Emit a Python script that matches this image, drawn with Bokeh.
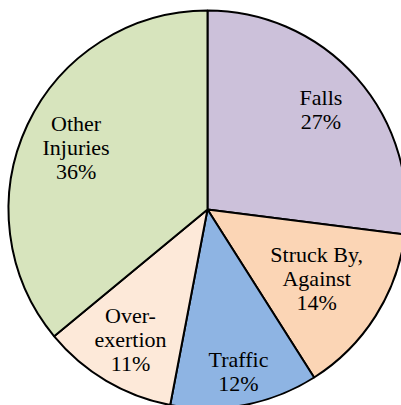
import math
from bokeh.plotting import figure
from bokeh.models import ColumnDataSource, Range1d
from bokeh.core.properties import value
from bokeh.embed import file_html
from bokeh.resources import INLINE

categories = ["Falls", "Struck By,\nAgainst", "Traffic", "Over-\nexertion", "Other\nInjuries"]
percents = [27, 14, 12, 11, 36]
colors = ["#CCC1DA", "#FBD5B5", "#8EB4E3", "#FDE9D9", "#D7E4BD"]
label_radius = [0.76, 0.65, 0.83, 0.76, 0.73]

R = 199
total = sum(percents)
starts, ends, lx, ly, texts = [], [], [], [], []
a = math.pi / 2
for cat, pct, lr in zip(categories, percents, label_radius):
    span = pct / total * 2 * math.pi
    s, e = a - span, a
    starts.append(s)
    ends.append(e)
    mid = (s + e) / 2
    lx.append(lr * R * math.cos(mid))
    ly.append(lr * R * math.sin(mid))
    texts.append(f"{cat}\n{pct}%")
    a = s

src = ColumnDataSource(dict(start=starts, end=ends, color=colors))
lab = ColumnDataSource(dict(x=lx, y=ly, text=texts))

W, H = 401, 405
cx, cy = 207, 209
p = figure(width=W, height=H, output_backend="svg", toolbar_location=None,
           x_range=Range1d(-cx, W - cx), y_range=Range1d(-(H - cy), cy),
           min_border=0)
p.axis.visible = False
p.grid.visible = False
p.outline_line_color = None

p.wedge(x=0, y=0, radius=R, start_angle="start", end_angle="end",
        fill_color="color", line_color="black", line_width=2, source=src)
p.text(x="x", y="y", text="text", source=lab, text_align="center",
       text_baseline="middle", text_font=value("'Liberation Serif', 'Times New Roman', serif"),
       text_font_size="22px", text_color="black", text_line_height=0.96)

open("out.html", "w").write(file_html(p, INLINE))
